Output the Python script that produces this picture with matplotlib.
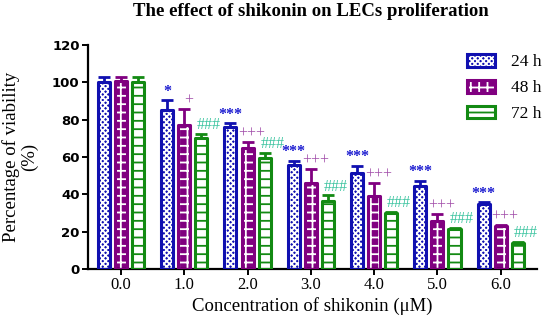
import numpy as np
import matplotlib
matplotlib.use("Agg")
import matplotlib.pyplot as plt
from matplotlib.patches import Patch
from matplotlib.legend_handler import HandlerTuple

conc = ["0.0", "1.0", "2.0", "3.0", "4.0", "5.0", "6.0"]
series = ["24 h", "48 h", "72 h"]
v24 = [100.4, 85.2, 76.3, 55.7, 51.6, 44.6, 34.8]
v48 = [100.5, 77.1, 65.0, 45.9, 39.1, 25.9, 23.0]
v72 = [100.0, 70.4, 59.3, 36.4, 29.8, 21.3, 14.1]
e24 = [2.5, 5.3, 1.8, 2.2, 3.8, 2.7, 1.0]
e48 = [2.2, 8.4, 3.0, 7.5, 7.0, 3.4, 0.6]
e72 = [3.0, 2.0, 3.0, 3.0, 0.8, 0.8, 0.6]
# significance marks
m24 = ["", "*", "***", "***", "***", "***", "***"]
m48 = ["", "+", "+++", "+++", "+++", "+++", "+++"]
m72 = ["", "###", "###", "###", "###", "###", "###"]

plt.rcParams["hatch.linewidth"] = 1.3
serif = "Liberation Serif"

fig = plt.figure(figsize=(5.5, 3.28), dpi=100)
ax = fig.add_axes([0.16, 0.18, 0.816, 0.683])

x = np.arange(len(conc))
w = 0.19
step = 0.27
cols = ["#1010b0", "#800080", "#138a13"]
faces = ["#1010b0", "#800080", "white"]
hcols = ["white", "white", "#138a13"]
hatches = ["xxxxxx", "++", "--"]
mcols = ["#1a1ad0", "#a04aa8", "#3cc4a0"]
mdx = [0.0, 0.07, 0.12]
vals = [v24, v48, v72]
errs = [e24, e48, e72]
marks = [m24, m48, m72]

handles = []
for i in range(3):
    xs = x + (i - 1) * step
    ax.errorbar(xs, vals[i], yerr=[np.zeros(len(x)), errs[i]], fmt="none",
                ecolor=cols[i], elinewidth=2, capsize=4, capthick=2, zorder=1)
    ax.bar(xs, vals[i], w, color=faces[i], edgecolor=hcols[i], linewidth=0,
           hatch=hatches[i], zorder=2)
    ax.bar(xs, vals[i], w, fill=False, edgecolor=cols[i], linewidth=2.2,
           joinstyle="round", zorder=3)
    for j in range(len(x)):
        if marks[i][j]:
            ax.text(xs[j] + mdx[i], vals[i][j] + errs[i][j] + 0.2, marks[i][j],
                    color=mcols[i], ha="center", va="bottom", fontsize=11.5,
                    family=serif, fontweight="bold" if i == 0 else "normal")
    h1 = Patch(facecolor=faces[i], edgecolor=hcols[i], hatch=hatches[i], linewidth=0)
    h2 = Patch(fill=False, edgecolor=cols[i], linewidth=2.2)
    handles.append((h1, h2))

ax.set_xlim(-0.52, 6.57)
ax.set_ylim(0, 120)
ax.set_yticks(range(0, 121, 20))
ax.set_xticks(x)
ax.set_xticklabels(conc, family=serif, fontsize=12)
for t in ax.get_yticklabels():
    t.set_family("DejaVu Sans")
    t.set_fontweight("bold")
    t.set_fontsize(9.5)
ax.spines["top"].set_visible(False)
ax.spines["right"].set_visible(False)
ax.spines["left"].set_linewidth(1.6)
ax.spines["bottom"].set_linewidth(1.6)
ax.tick_params(width=1.4, length=4, pad=2)

ax.set_xlabel("Concentration of shikonin (\u03bcM)", family=serif, fontsize=13.5,
              labelpad=3)
ax.set_ylabel("Percentage of viability\n(%)", family=serif, fontsize=13.5,
              linespacing=1.0)
ax.yaxis.set_label_coords(-0.112, 0.5)
fig.text(0.565, 1 - 12 / 328, "The effect of shikonin on LECs proliferation",
         family=serif, fontsize=13.5, fontweight="bold", ha="center", va="center")

ax.legend(handles, series, handler_map={tuple: HandlerTuple(ndivide=1, pad=0)},
          loc="upper right", bbox_to_anchor=(1.045, 1.03), frameon=False,
          prop={"family": serif, "size": 12.5}, handlelength=1.6, handleheight=0.75,
          labelspacing=0.55, handletextpad=0.9)

fig.savefig("out.png", dpi=100)
